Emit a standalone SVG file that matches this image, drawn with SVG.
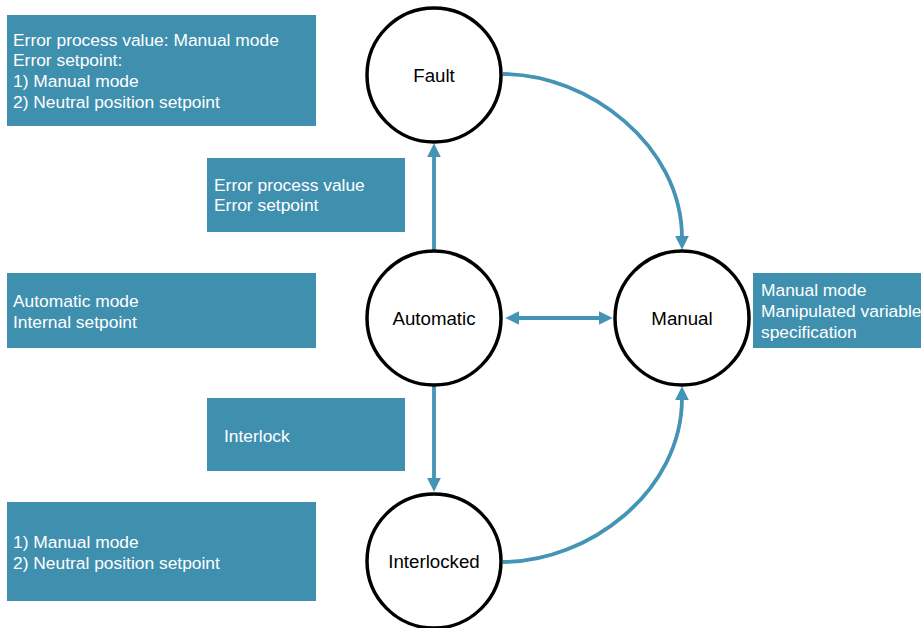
<svg xmlns="http://www.w3.org/2000/svg" width="921" height="628" viewBox="0 0 921 628">
<style>
.box{fill:#3f8faf}
.bt{font-family:"Liberation Sans",Arial,sans-serif;font-size:17.4px;fill:#ffffff}
.node{fill:#ffffff;stroke:#000000;stroke-width:3.5}
.nt{font-family:"Liberation Sans",Arial,sans-serif;font-size:18.7px;fill:#000000;text-anchor:middle}
.conn{fill:none;stroke:#4494b5;stroke-width:3.8}
</style>
<defs>
<marker id="ah" markerUnits="userSpaceOnUse" markerWidth="14" markerHeight="14" viewBox="0 0 12 12" refX="2" refY="6" orient="auto-start-reverse">
<path d="M0,0 L12,6 L0,12 z" fill="#4494b5"/>
</marker>
</defs>
<rect width="921" height="628" fill="#ffffff"/>
<g id="box-fault-info">
<rect class="box" x="7" y="15" width="309" height="111"/>
<text class="bt" x="13" y="45.5">Error process value: Manual mode</text>
<text class="bt" x="13" y="66.2">Error setpoint:</text>
<text class="bt" x="13" y="86.9">1) Manual mode</text>
<text class="bt" x="13" y="107.6">2) Neutral position setpoint</text>
</g>
<g id="box-error">
<rect class="box" x="207" y="158" width="198" height="74"/>
<text class="bt" x="214" y="190.5">Error process value</text>
<text class="bt" x="214" y="211.2">Error setpoint</text>
</g>
<g id="box-auto">
<rect class="box" x="7" y="273" width="309" height="75"/>
<text class="bt" x="13" y="307">Automatic mode</text>
<text class="bt" x="13" y="328">Internal setpoint</text>
</g>
<g id="box-interlock">
<rect class="box" x="207" y="398" width="198" height="73"/>
<text class="bt" x="224" y="442">Interlock</text>
</g>
<g id="box-interlocked-info">
<rect class="box" x="7" y="502" width="309" height="99"/>
<text class="bt" x="13" y="548">1) Manual mode</text>
<text class="bt" x="13" y="569">2) Neutral position setpoint</text>
</g>
<g id="box-manual">
<rect class="box" x="753" y="273" width="168" height="75"/>
<text class="bt" x="761" y="296">Manual mode</text>
<text class="bt" x="761" y="317">Manipulated variable</text>
<text class="bt" x="761" y="338">specification</text>
</g>
<g id="connectors">
<path class="conn" d="M434,250 L434,155" marker-end="url(#ah)"/>
<path class="conn" d="M434,386 L434,480" marker-end="url(#ah)"/>
<path class="conn" d="M517,318 L601,318" marker-start="url(#ah)" marker-end="url(#ah)"/>
<path class="conn" d="M503,74 C588,74 682,145 682,238" marker-end="url(#ah)"/>
<path class="conn" d="M503,562 C588,562 682,492 682,398" marker-end="url(#ah)"/>
</g>
<g id="node-fault">
<circle class="node" cx="434" cy="75" r="67"/>
<text class="nt" x="434" y="81.5">Fault</text>
</g>
<g id="node-automatic">
<circle class="node" cx="434" cy="318" r="67"/>
<text class="nt" x="434" y="324.5">Automatic</text>
</g>
<g id="node-manual">
<circle class="node" cx="682" cy="318" r="67"/>
<text class="nt" x="682" y="324.5">Manual</text>
</g>
<g id="node-interlocked">
<circle class="node" cx="434" cy="561" r="67"/>
<text class="nt" x="434" y="567.5">Interlocked</text>
</g>
</svg>
